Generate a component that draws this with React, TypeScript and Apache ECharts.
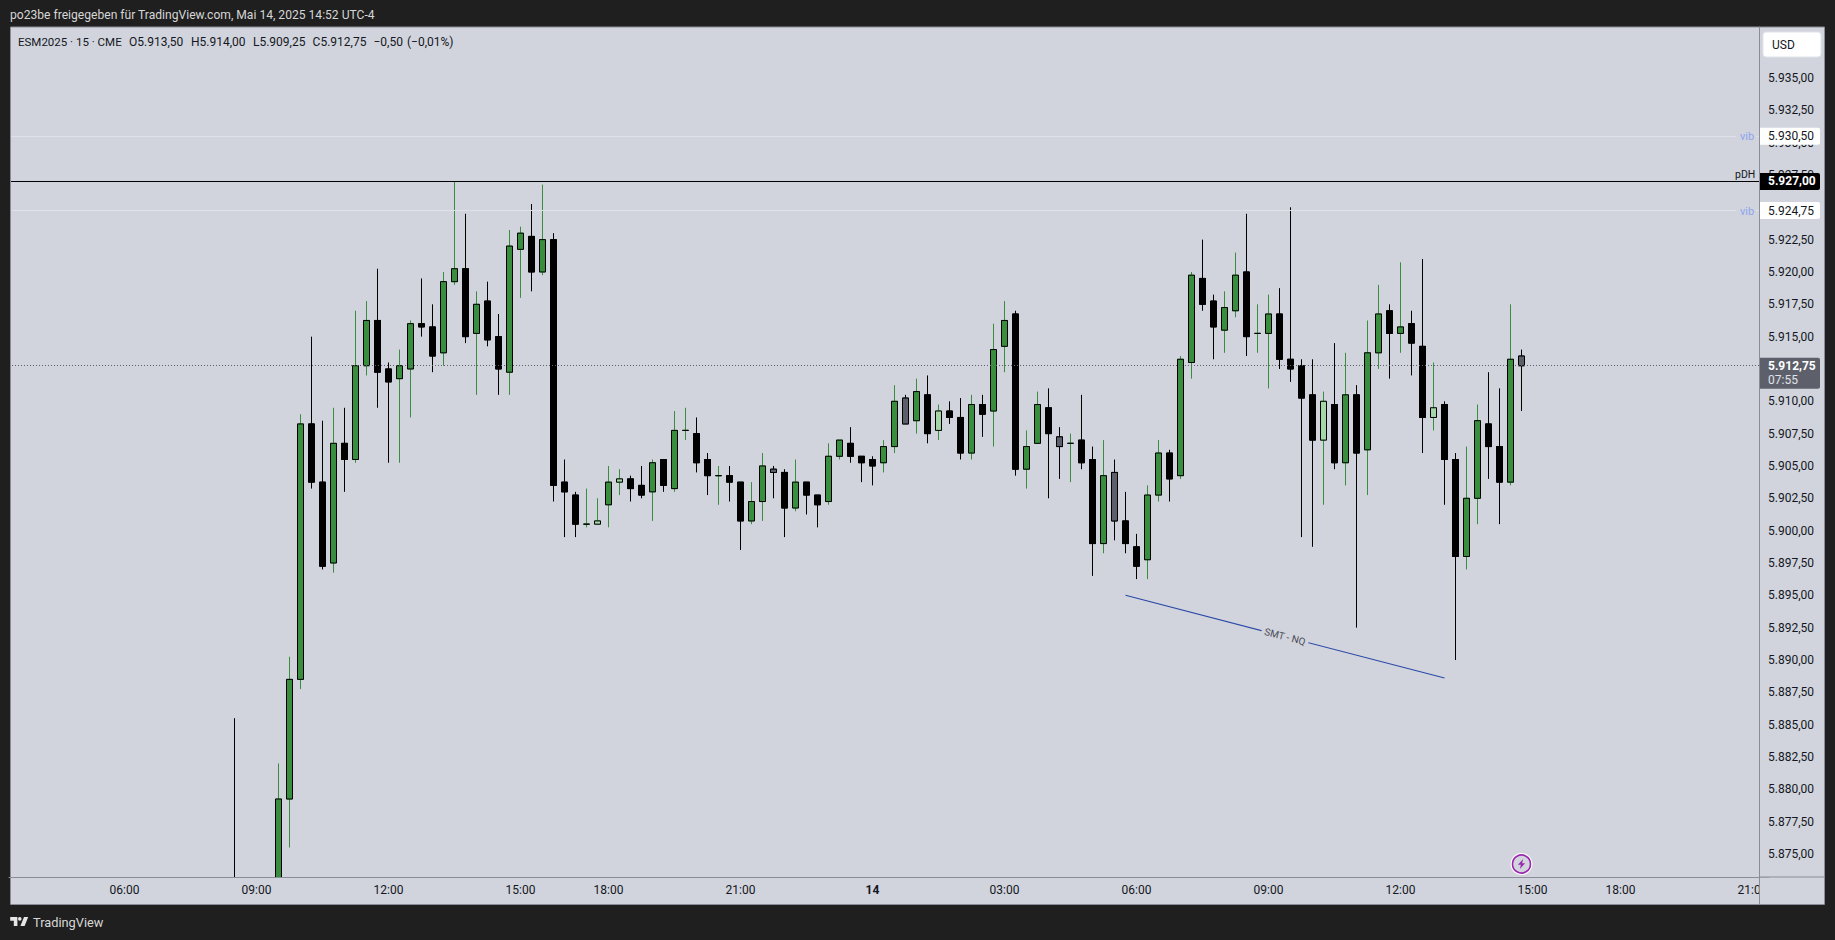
import React, { useEffect, useRef } from "react";
import * as echarts from "echarts";

const N = null;
// 15 min bars, first slot of the arrays is slot 20 of the axis
const firstSlot = 20;
const opens = [5870,N,N,N,5871,5879.25,5888.5,5908.25,5903.75,5897.5,5906.75,5905.5,5912.75,5916.25,5912.5,5911.75,5912.5,5916,5915.75,5913.75,5919.25,5920.25,5915.25,5917.75,5915,5912.25,5921.75,5922.75,5920,5922.5,5903.75,5902.75,5900.5,5900.5,5902,5903.75,5904,5903.5,5903,5905.5,5903.25,5907.75,5907.5,5905.5,5904.25,5904.25,5903.75,5900.75,5902.25,5904.75,5904.5,5901.75,5903.75,5902.75,5902.25,5905.75,5906.75,5905.75,5905.5,5905.25,5906.5,5910.25,5908.5,5910.5,5907.75,5909.25,5908.75,5906,5909.75,5909.25,5914.25,5916.75,5904.75,5906.75,5909.5,5907.25,5906.75,5907,5905.5,5899,5904.5,5900.75,5898.75,5897.75,5902.75,5906,5904.25,5913,5919.5,5917.75,5915.5,5917,5920,5915.25,5915.25,5916.75,5913.25,5912.75,5910.5,5907,5909.75,5905.25,5910.5,5906.25,5913.75,5917,5915.25,5916,5914.25,5908.75,5909.75,5905.5,5898,5902.5,5908.25,5906.5,5903.75,5913.5];
const highs = [5885.5,N,N,N,5882,5890.25,5909,5915,5908.5,5909.5,5909.5,5917,5917.75,5920.25,5913,5914,5916.25,5919.5,5917.5,5920,5927,5924.5,5918.5,5919.25,5916.75,5923.25,5923.5,5925.25,5926.75,5923,5905.5,5903,5903.25,5902.5,5905,5904.75,5904.25,5905,5905.5,5905.5,5909.25,5909.5,5908.75,5906,5905,5905,5903.75,5903.75,5906,5905,5904.75,5905.5,5903.75,5902.75,5906.75,5907,5908,5905.75,5905.75,5907,5911.25,5910.5,5911.75,5912,5909.75,5910,5910.25,5910.5,5910.5,5916,5917.75,5917,5907.75,5910.75,5911,5908,5907.5,5910.5,5906.5,5907,5905.5,5903,5899.75,5903.5,5907,5906.25,5913.5,5920,5922.5,5918.25,5918.5,5921.5,5924.5,5917.5,5918.25,5918.75,5925,5913.25,5913.25,5910.75,5914.5,5913.75,5911.25,5916.25,5919,5917.5,5920.75,5917,5921,5913,5910,5906,5906.5,5909.75,5912.25,5911,5917.5,5914];
const lows = [5864,N,N,N,5870,5875.5,5887.75,5903.25,5897,5896.75,5903,5905.25,5912,5909.5,5905.25,5905.25,5908.75,5915,5912.25,5912.75,5919,5914.5,5910.5,5914.25,5910.5,5910.5,5918,5918.5,5919.75,5902.25,5899.5,5899.5,5900.25,5900.5,5900.25,5902.75,5902.25,5902.5,5900.75,5903,5903,5907,5904.5,5902.75,5902,5902.25,5898.5,5900.5,5900.75,5902.5,5899.5,5901.5,5901.25,5900.25,5902,5905.5,5905.25,5903.75,5903.5,5904.5,5906,5908.25,5907.5,5906.75,5907,5908.25,5905.5,5905.5,5907.25,5906.5,5912.25,5904.25,5903.25,5906.75,5902.5,5904,5903.75,5904.75,5896.5,5898.25,5899.25,5898.25,5896.25,5896.25,5902.25,5902.25,5904,5911.75,5917,5913.25,5913.75,5916.5,5913.5,5913.75,5911,5912.5,5911.5,5899.5,5898.75,5902,5904.75,5903.5,5892.5,5902.75,5912.5,5911.75,5913.75,5912,5906,5907.75,5902,5890,5897,5900.5,5904,5900.5,5903.5,5909.25];
const closes = [5866,N,N,N,5879.25,5888.5,5908.25,5903.75,5897.25,5906.75,5905.5,5912.75,5916.25,5912.25,5911.5,5912.75,5916,5915.75,5913.5,5919.25,5920.25,5915,5917.5,5914.75,5912.5,5922,5923,5920,5922.5,5903.5,5903,5900.5,5900.5,5900.75,5903.75,5904,5903.25,5902.75,5905.25,5903.5,5907.75,5907.75,5905.25,5904.25,5904.25,5903.75,5900.75,5902.25,5905,5904.5,5901.75,5903.75,5902.75,5902,5905.75,5907,5905.75,5905.25,5905,5906.5,5910,5908.25,5910.75,5907.5,5909.25,5908.75,5906,5909.75,5909,5914,5916.25,5904.75,5906.5,5909.75,5907.5,5906.5,5906.75,5905.25,5899,5904.25,5900.75,5899,5897.25,5902.75,5906,5904,5913.25,5919.75,5917.5,5915.75,5917.25,5919.75,5915,5915.25,5916.75,5913.25,5912.5,5910.25,5907,5910,5905.25,5910.5,5906,5913.75,5916.75,5915.25,5915.75,5914.5,5908.75,5909.5,5905.5,5898,5902.5,5908.5,5906.5,5903.75,5913.25,5912.75];
const lightSlots = [53, 55, 84, 119, 129];
const greySlots = [69, 81, 95, 100, 137];

const slotCount = 160;
const timeLabels = ["06:00","09:00","12:00","15:00","18:00","21:00","14","03:00","06:00","09:00","12:00","15:00","18:00","21:00"];
const timeLabelSlots = [10,22,34,46,54,66,78,90,102,114,126,138,146,158];
const priceTicks = [5875,5877.5,5880,5882.5,5885,5887.5,5890,5892.5,5895,5897.5,5900,5902.5,5905,5907.5,5910,5912.5,5915,5917.5,5920,5922.5,5925,5927.5,5930,5932.5,5935];
const vibLevels = [5930.5, 5924.75];
const pdhLevel = 5927;
const lastPrice = 5912.75;
const countdown = "07:55";
const smtStart = { slot: 101, price: 5895 };
const smtEnd = { slot: 130, price: 5888.6 };
const headerText = "po23be freigegeben für TradingView.com, Mai 14, 2025 14:52 UTC-4";
const legendParts = ["ESM2025 · 15 · CME","O5.913,50","H5.914,00","L5.909,25","C5.912,75","−0,50","(−0,01%)"];
const legendX = [18, 129, 191, 253, 312.6, 373.5, 407];

const GREEN = "#388e3c", LIGHT = "#a5d6a7", GREY = "#5d606b", BLACK = "#000000";
const PANEL = "#d1d4dc", DARK = "#1f1f1f", LINE = "#8a8d97", TEXT = "#131722";
const FONT = "Roboto";

const fmt = (v: number) => {
  const [a, b] = v.toFixed(2).split(".");
  return a.slice(0, 1) + "." + a.slice(1) + "," + b;
};

const logoPath = "M14 6H2v6h6v9h6V6zm12 15h-7l6-15h7l-6 15zm-8-15a3 3 0 1 1 0 6 3 3 0 0 1 0-6z";
echarts.graphic.registerShape("tvlogo", echarts.graphic.extendPath(logoPath, {}) as any);

const categories: string[] = [];
for (let i = 0; i < slotCount; i++) {
  const names = timeLabelSlots.indexOf(i);
  categories.push(names >= 0 ? timeLabels[names] + "#" + i : "s" + i);
}

function App() {
  const ref = useRef<HTMLDivElement>(null);
  useEffect(() => {
    document.body.style.margin = "0";
    document.body.style.background = DARK;
    const chart = echarts.init(ref.current!, null, { renderer: "svg" });

    const wickData: any[] = [];
    const bodyData: any[] = [];
    for (let s = 0; s < slotCount; s++) {
      const i = s - firstSlot;
      const o = opens[i], c = closes[i], l = lows[i], h = highs[i];
      if (o === undefined || o === null) {
        wickData.push(["-", "-", "-", "-"]);
        bodyData.push(["-", "-", "-", "-"]);
        continue;
      }
      const wick = c! >= o ? GREEN : BLACK;
      const fill = lightSlots.includes(s) ? LIGHT : greySlots.includes(s) ? GREY : c! > o ? GREEN : BLACK;
      wickData.push({
        value: [o, c, l, h],
        itemStyle: { color: "rgba(0,0,0,0)", color0: "rgba(0,0,0,0)", borderColor: wick, borderColor0: wick, borderColorDoji: wick },
      });
      bodyData.push({
        value: [o, c, Math.min(o, c!), Math.max(o, c!)],
        itemStyle: { color: fill, color0: fill, borderColor: BLACK, borderColor0: BLACK, borderColorDoji: BLACK },
      });
    }

    const hLine = (v: number, color: string, width: number, type: any) => ({
      yAxis: v, lineStyle: { color, width, type }, label: { show: false },
    });

    chart.setOption({
      animation: false,
      backgroundColor: DARK,
      grid: { left: 9, top: 27, width: 1760, height: 850, containLabel: false },
      xAxis: {
        type: "category",
        data: categories,
        z: 6,
        axisLine: { lineStyle: { color: LINE, width: 1 } },
        axisTick: { show: false },
        splitLine: { show: false },
        axisLabel: {
          margin: 7,
          color: TEXT,
          fontFamily: FONT,
          fontSize: 12,
          hideOverlap: false,
          interval: (idx: number) => timeLabelSlots.includes(idx),
          formatter: (v: string) => {
            const t = v.split("#")[0];
            return t === "14" ? "{b|14}" : t;
          },
          rich: { b: { fontWeight: "bold", fontFamily: FONT, fontSize: 12, color: TEXT } },
        },
      },
      yAxis: {
        type: "value",
        position: "right",
        min: 5873.22,
        max: 5938.94,
        offset: -9.5,
        z: 8,
        axisLine: { show: true, lineStyle: { color: LINE, width: 1 } },
        axisTick: { show: false },
        splitLine: { show: false },
        axisLabel: {
          margin: 8.5,
          color: TEXT,
          fontFamily: FONT,
          fontSize: 12,
          padding: [0, 0, 2, 0],
          customValues: priceTicks,
          formatter: (v: number) => fmt(v),
        },
      },
      series: [
        {
          type: "candlestick",
          name: "wicks",
          data: wickData,
          barWidth: 6,
          z: 2,
          silent: true,
          itemStyle: { borderWidth: 1 },
        },
        {
          type: "candlestick",
          name: "ESM2025",
          data: bodyData,
          barWidth: 6,
          z: 3,
          silent: true,
          itemStyle: { borderWidth: 1 },
          markLine: {
            silent: true,
            symbol: "none",
            animation: false,
            z: 4,
            data: [
              hLine(vibLevels[0], "#dfe1e9", 1, "solid"),
              hLine(vibLevels[1], "#dfe1e9", 1, "solid"),
              hLine(pdhLevel, "#000000", 1.2, "solid"),
              hLine(lastPrice, GREY, 1, [1, 2]),
              [
                {
                  coord: [smtStart.slot, smtStart.price],
                  lineStyle: { color: "#2a48a8", width: 1.1, type: "solid" },
                  label: {
                    show: true,
                    position: "middle",
                    formatter: "SMT - NQ",
                    color: "#4a4d58",
                    fontFamily: FONT,
                    fontSize: 10,
                    backgroundColor: PANEL,
                    padding: [1, 3],
                    distance: -6,
                  },
                },
                { coord: [smtEnd.slot, smtEnd.price] },
              ],
            ],
          },
        },
      ],
      graphic: { elements: [] },
    });

    const py = (v: number) => chart.convertToPixel({ yAxisIndex: 0 }, v) as number;
    const sx = (s: number) => chart.convertToPixel({ xAxisIndex: 0 }, s) as number;

    const txt = (text: string, x: number, y: number, fill: string, font: string, z = 20, align = "left") => ({
      type: "text", z, silent: true,
      style: { text, x, y, fill, font, align, verticalAlign: "middle" },
    });
    const tag = (y0: number, h: number, fill: string) => ({
      type: "rect", z: 18, silent: true,
      shape: { x: 1760, y: y0, width: 60, height: h, r: [0, 2, 2, 0] },
      style: { fill },
    });
    const fillRect = (x: number, y: number, width: number, height: number, fill: string, z: number) => ({
      type: "rect", z, silent: true, shape: { x, y, width, height }, style: { fill },
    });
    const rule = (x1: number, y1: number, x2: number, y2: number) => ({
      type: "line", z: 7, silent: true, shape: { x1, y1, x2, y2 }, style: { stroke: LINE, lineWidth: 1 },
    });

    const els: any[] = [];
    // chart panel behind everything
    els.push(fillRect(10.5, 27, 1814, 877, PANEL, -5));
    // covers: everything outside the plot pane (the series overflow it)
    els.push(fillRect(1760, 27.5, 64, 876, PANEL, 5));
    els.push(fillRect(10.5, 877.5, 1750, 26.5, PANEL, 5));
    els.push(fillRect(0, 904, 1835, 36, DARK, 5));
    els.push(fillRect(0, 0, 10, 940, DARK, 5));
    // the time scale stops at the price scale
    els.push(fillRect(1760, 877.5, 64, 26.5, PANEL, 7));
    els.push(rule(10.5, 27, 10.5, 904.5));
    els.push(rule(1824.5, 27, 1824.5, 904.5));
    els.push(rule(10.5, 27, 1824.5, 27));
    els.push(rule(10.5, 904.5, 1824.5, 904.5));
    els.push(rule(1759.5, 27, 1759.5, 904));
    els.push(rule(1760, 877, 1824, 877));
    // header / footer
    els.push(txt(headerText, 10, 15, "#d6d6d6", `12.1px ${FONT}`));
    legendParts.forEach((t, i) => els.push(txt(t, legendX[i], 42, TEXT, i === 0 ? `11.5px ${FONT}` : `12px ${FONT}`)));
    els.push({ type: "tvlogo", z: 20, silent: true, x: 9, y: 913.5, scaleX: 0.6, scaleY: 0.6, style: { fill: "#e6e6e6" } });
    els.push(txt("TradingView", 33, 922, "#d8d8d8", `12.8px ${FONT}`));
    // USD button
    els.push({ type: "rect", z: 18, silent: true, shape: { x: 1763, y: 32, width: 58, height: 25, r: 3 }, style: { fill: "#ffffff", stroke: "#e0e3eb", lineWidth: 1 } });
    els.push(txt("USD", 1772, 44.5, TEXT, `12px ${FONT}`));
    // price tags
    vibLevels.forEach((v) => {
      const y = py(v);
      els.push(tag(y - 8.5, 17, "#ffffff"));
      els.push(txt(fmt(v), 1768, y, TEXT, `12px ${FONT}`));
      els.push(fillRect(1736, y - 2, 20, 4, PANEL, 7));
      els.push(txt("vib", 1740, y + 0.5, "#8ea5ee", `11px ${FONT}`));
    });
    const pdhY = py(pdhLevel);
    els.push(tag(pdhY - 8.5, 17, "#000000"));
    els.push(txt(fmt(pdhLevel), 1768, pdhY, "#ffffff", `bold 12px ${FONT}`));
    els.push(txt("pDH", 1735, pdhY - 7, TEXT, `10.5px ${FONT}`));
    const lastY = py(lastPrice);
    els.push(tag(lastY - 8, 31, GREY));
    els.push(txt(fmt(lastPrice), 1768, lastY, "#ffffff", `bold 12px ${FONT}`));
    els.push(txt(countdown, 1768, lastY + 14, "#e0e3eb", `12px ${FONT}`));
    // lightning marker under the latest bar
    const ix = sx(137);
    els.push({ type: "circle", z: 18, silent: true, shape: { cx: ix, cy: 864, r: 11 }, style: { fill: "#ffffff" } });
    els.push({ type: "circle", z: 19, silent: true, shape: { cx: ix, cy: 864, r: 9 }, style: { fill: PANEL, stroke: "#9c27b0", lineWidth: 1.6 } });
    els.push({
      type: "polygon", z: 20, silent: true,
      shape: { points: [[1.6,-5],[-3.6,0.8],[-0.6,0.8],[-1.6,5],[3.6,-0.8],[0.6,-0.8]].map(([a, b]) => [ix + a, 864 + b]) },
      style: { fill: "#9c27b0" },
    });
    chart.setOption({ graphic: { elements: els } });

    return () => chart.dispose();
  }, []);
  return <div ref={ref} style={{ position: "fixed", left: 0, top: 0, width: 1835, height: 940 }} />;
}

export default App;
